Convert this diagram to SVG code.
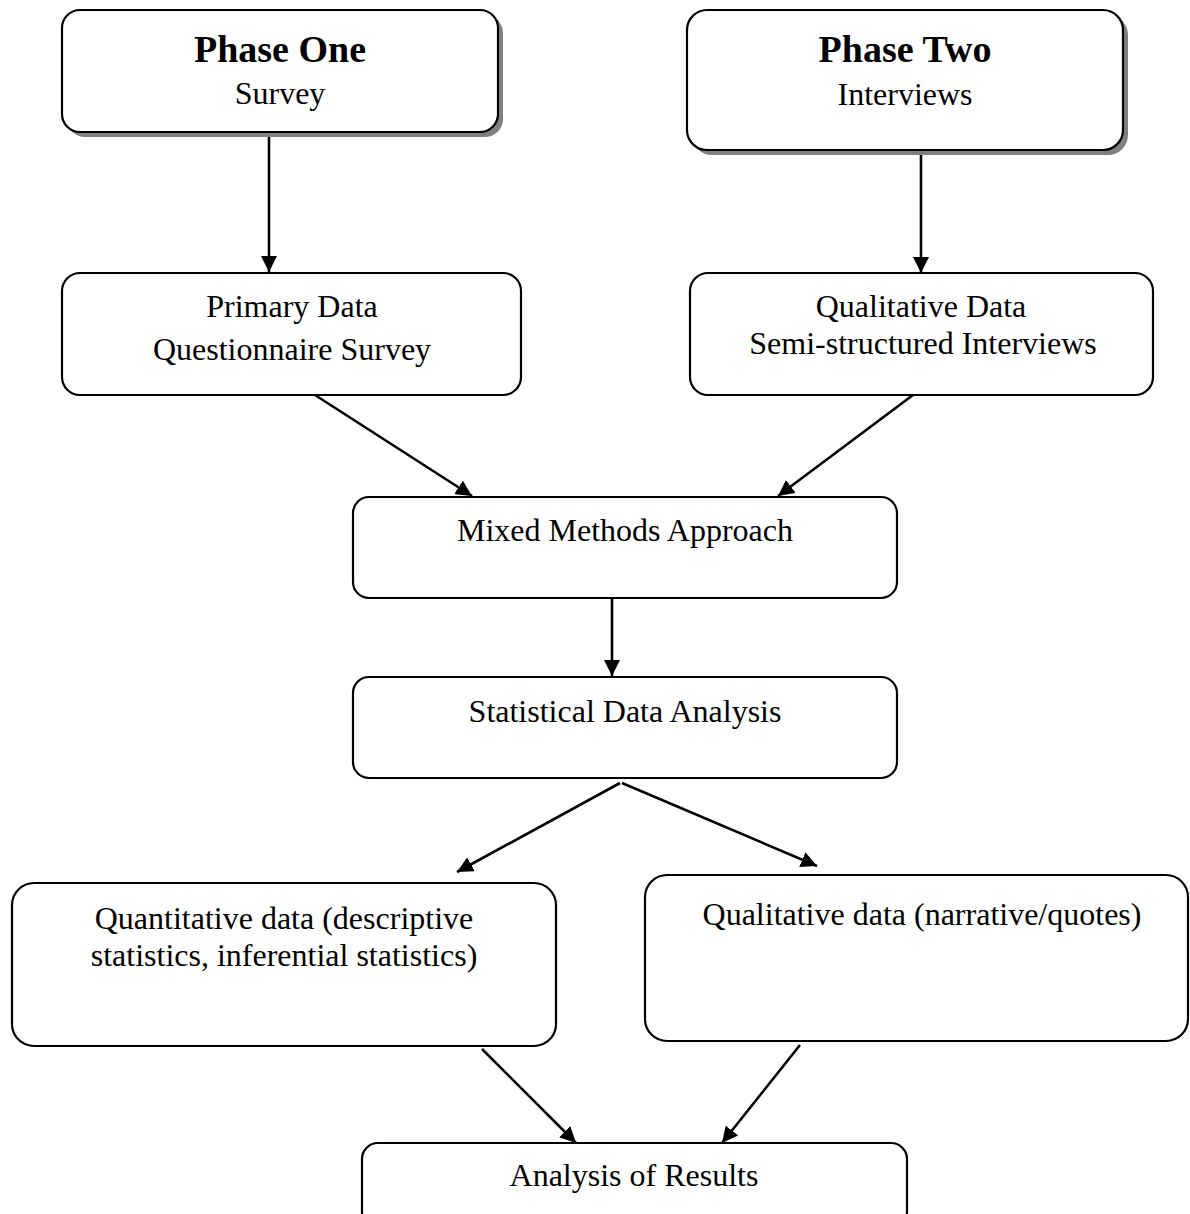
<svg xmlns="http://www.w3.org/2000/svg" width="1190" height="1214" viewBox="0 0 1190 1214">
<defs>
<marker id="ah" markerUnits="userSpaceOnUse" markerWidth="18" markerHeight="16" refX="16" refY="8" orient="auto">
<path d="M0,0 L16,8 L0,16 Z" fill="#000"/>
</marker>
<style>
.box{fill:#fff;stroke:#000;stroke-width:2.2}
.shadow{fill:#808080;stroke:none}
.t{font-family:"Liberation Serif","Times New Roman",serif;font-size:32px;fill:#000;text-anchor:middle}
.b{font-weight:bold;font-size:38px}
.c{stroke:#000;stroke-width:2.6;fill:none;marker-end:url(#ah)}
</style>
</defs>
<rect width="1190" height="1214" fill="#fff"/>
<g id="connectors">
<line class="c" x1="269" y1="132" x2="269" y2="272"/>
<line class="c" x1="921" y1="150" x2="921" y2="273"/>
<line class="c" x1="315" y1="395" x2="472" y2="496"/>
<line class="c" x1="913" y1="395" x2="778" y2="496"/>
<line class="c" x1="612" y1="598" x2="612" y2="676"/>
<line class="c" x1="620" y1="783" x2="457" y2="872"/>
<line class="c" x1="622" y1="783" x2="817" y2="866"/>
<line class="c" x1="482" y1="1049" x2="576" y2="1143"/>
<line class="c" x1="800" y1="1045" x2="722" y2="1143"/>
</g>
<g id="phase-one">
<rect class="shadow" x="67" y="15" width="436" height="122" rx="18"/>
<rect class="box" x="62" y="10" width="436" height="122" rx="18"/>
<text class="t b" x="280" y="62">Phase One</text>
<text class="t" x="280" y="104">Survey</text>
</g>
<g id="phase-two">
<rect class="shadow" x="692" y="15" width="436" height="140" rx="20"/>
<rect class="box" x="687" y="10" width="436" height="140" rx="20"/>
<text class="t b" x="905" y="62">Phase Two</text>
<text class="t" x="905" y="105">Interviews</text>
</g>
<g id="primary-data">
<rect class="box" x="62" y="273" width="459" height="122" rx="18"/>
<text class="t" x="292" y="317">Primary Data</text>
<text class="t" x="292" y="360">Questionnaire Survey</text>
</g>
<g id="qualitative-data-top">
<rect class="box" x="690" y="273" width="463" height="122" rx="18"/>
<text class="t" x="921" y="317">Qualitative Data</text>
<text class="t" x="923" y="354">Semi-structured Interviews</text>
</g>
<g id="mixed-methods">
<rect class="box" x="353" y="497" width="544" height="101" rx="16"/>
<text class="t" x="625" y="541">Mixed Methods Approach</text>
</g>
<g id="statistical-analysis">
<rect class="box" x="353" y="677" width="544" height="101" rx="16"/>
<text class="t" x="625" y="722">Statistical Data Analysis</text>
</g>
<g id="quantitative-data">
<rect class="box" x="12" y="883" width="544" height="163" rx="22"/>
<text class="t" x="284" y="929">Quantitative data (descriptive</text>
<text class="t" x="284" y="966">statistics, inferential statistics)</text>
</g>
<g id="qualitative-data-bottom">
<rect class="box" x="645" y="875" width="543" height="166" rx="22"/>
<text class="t" x="922" y="925">Qualitative data (narrative/quotes)</text>
</g>
<g id="analysis-results">
<rect class="box" x="362" y="1143" width="545" height="85" rx="16"/>
<text class="t" x="634" y="1186">Analysis of Results</text>
</g>
</svg>
